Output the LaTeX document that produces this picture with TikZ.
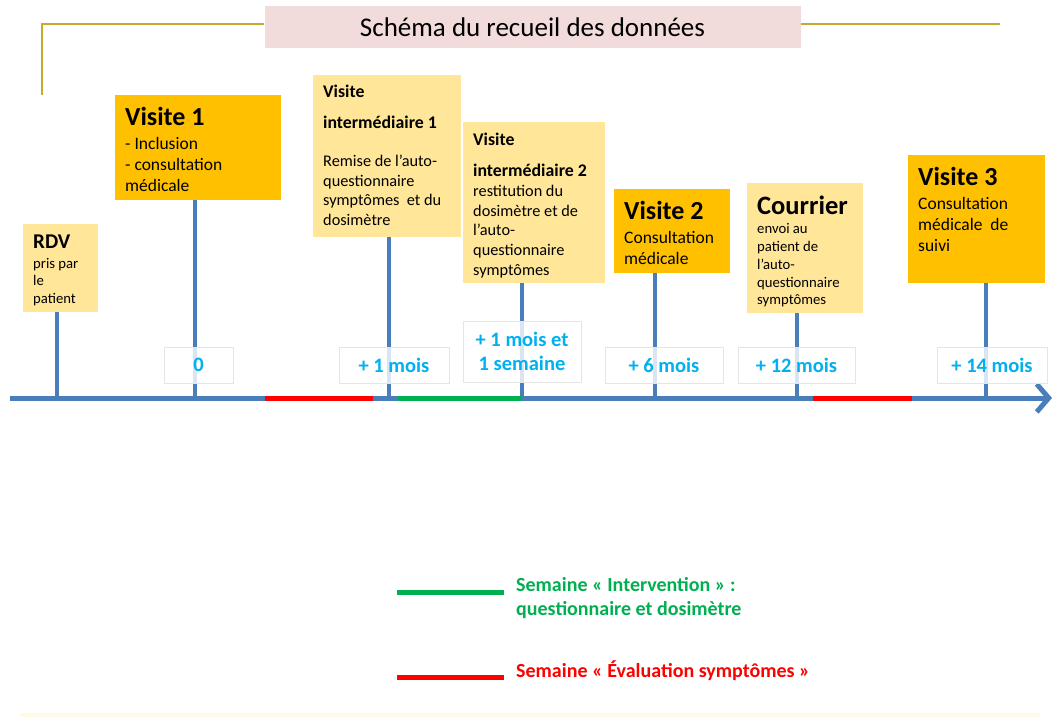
\documentclass[tikz,border=0pt]{standalone}
\usepackage{fontspec}
\setmainfont{Carlito}
\usetikzlibrary{arrows.meta, positioning}
\definecolor{palegold}{RGB}{255,230,153}
\definecolor{visitgold}{RGB}{255,192,0}
\definecolor{axisblue}{RGB}{74,126,187}
\definecolor{labelblue}{RGB}{0,176,240}
\definecolor{weekgreen}{RGB}{0,176,80}
\definecolor{weekred}{RGB}{255,0,0}
\definecolor{titlepink}{RGB}{242,220,219}
\definecolor{linegold}{RGB}{199,168,50}
%% card text: width, height, top gap, body
\newcommand{\cardtext}[4]{\parbox[c][#2][t]{#1}{\raggedright\vspace*{#3}#4}}

\begin{document}
\begin{tikzpicture}[
    x=1pt, y=-1pt,
    card/.style={
        fill=palegold, anchor=north west,
        inner xsep=10pt, inner ysep=0pt
    },
    visit/.style={card, fill=visitgold},
    timebox/.style={
        draw=black!10, line width=0.8pt,
        fill=white, fill opacity=0.8, text opacity=1,
        text=labelblue, align=center, inner sep=0pt,
        font=\fontsize{20.5}{24}\selectfont\bfseries
    },
    stem/.style={draw=axisblue, line width=3.5pt},
    timeline/.style={
        draw=axisblue, line width=5pt,
        -{Straight Barb[length=12pt, width=28pt]}
    },
    week/.style={line width=5pt},
    titleline/.style={draw=linegold, line width=2.5pt},
    legtext/.style={
        anchor=west, align=left, inner sep=0pt,
        font=\fontsize{20}{24}\selectfont\bfseries
    }
]
\useasboundingbox (0,0) rectangle (1054,717);

%% ── Title ────────────────────────────────────────────────────────────────────
\node[fill=titlepink, minimum width=536pt, minimum height=42pt, inner sep=0pt,
      font=\fontsize{27}{30}\selectfont] (title) at (532.5,27.5)
      {Schéma du recueil des données};
\coordinate (brkl) at (42,95);
\coordinate (brkr) at (1000,24);
\draw[titleline] (brkl) |- (title.west |- brkr);
\draw[titleline] (title.east |- brkr) -- (brkr);

%% ── Visits ───────────────────────────────────────────────────────────────────
\node[card] (rdv) at (23,224) {\cardtext{55pt}{88pt}{11pt}{%
    {\fontsize{21}{21}\selectfont\bfseries RDV\par}\vspace{1.5pt}
    \fontsize{14.7}{17.7}\selectfont pris par\\le\\patient}};
\node[visit] (visite1) at (115,95) {\cardtext{146pt}{105pt}{12pt}{%
    {\fontsize{26}{26}\selectfont\bfseries Visite 1\par}\vspace{3pt}
    \fontsize{17.5}{21}\selectfont - Inclusion\\- consultation\\médicale}};
\node[card] (vinter1) at (313,75) {\cardtext{128pt}{162pt}{10pt}{%
    {\fontsize{17.8}{30.5}\selectfont\bfseries Visite\par intermédiaire 1\par}\vspace{18.5pt}
    \fontsize{16.3}{19.7}\selectfont Remise de l’auto-\\questionnaire\\symptômes\ \ et du\\dosimètre}};
\node[card] (vinter2) at (463,122) {\cardtext{122pt}{161pt}{11pt}{%
    {\fontsize{17.8}{30.5}\selectfont\bfseries Visite\par intermédiaire 2\par}\vspace{0.5pt}
    \fontsize{16.3}{19.7}\selectfont restitution du\\dosimètre et de\\l’auto-\\questionnaire\\symptômes}};
\node[visit] (visite2) at (614,189) {\cardtext{96pt}{84pt}{12.5pt}{%
    {\fontsize{26}{26}\selectfont\bfseries Visite 2\par}\vspace{2.5pt}
    \fontsize{17.5}{21}\selectfont Consultation\\médicale}};
\node[card] (courrier) at (747,183) {\cardtext{96pt}{130pt}{12.5pt}{%
    {\fontsize{26.5}{27}\selectfont\bfseries Courrier\par}\vspace{2pt}
    \fontsize{14.7}{17.7}\selectfont envoi au\\patient de\\l’auto-\\questionnaire\\symptômes}};
\node[visit] (visite3) at (908,155) {\cardtext{117pt}{128pt}{12pt}{%
    {\fontsize{26}{26}\selectfont\bfseries Visite 3\par}\vspace{3.5pt}
    \fontsize{17.5}{21}\selectfont Consultation\\médicale\ \ de\\suivi}};

%% ── Stems down to the time axis ──────────────────────────────────────────────
\coordinate (trdv)      at (57,398);
\coordinate (tvisite1)  at (195,398);
\coordinate (tvinter1)  at (389,398);
\coordinate (tvinter2)  at (522,398);
\coordinate (tvisite2)  at (655,398);
\coordinate (tcourrier) at (797,398);
\coordinate (tvisite3)  at (986,398);
\draw[stem] (trdv)      -- (trdv |- rdv.south);
\draw[stem] (tvisite1)  -- (tvisite1 |- visite1.south);
\draw[stem] (tvinter1)  -- (tvinter1 |- vinter1.south);
\draw[stem] (tvinter2)  -- (tvinter2 |- vinter2.south);
\draw[stem] (tvisite2)  -- (tvisite2 |- visite2.south);
\draw[stem] (tcourrier) -- (tcourrier |- courrier.south);
\draw[stem] (tvisite3)  -- (tvisite3 |- visite3.south);

%% ── Time axis and weeks ──────────────────────────────────────────────────────
\coordinate (axstart) at (10,398);
\coordinate (axend)   at (1052,398);
\draw[timeline] (axstart) -- (axend);
\draw[week, draw=weekred]   (265,398) -- (373,398);
\draw[week, draw=weekgreen] (398,398) -- (tvinter2);
\draw[week, draw=weekred]   (813,398) -- (912,398);

%% ── Time labels ──────────────────────────────────────────────────────────────
\node[timebox, minimum width=69pt,  minimum height=36pt] (lab0)  at (198.5,365) {0};
\node[timebox, minimum width=110pt, minimum height=36pt] (lab1)  at (394,365)   {+ 1 mois};
\node[timebox, minimum width=118pt, minimum height=61pt] (lab1s) at (522,351.5) {+ 1 mois et\\1 semaine};
\node[timebox, minimum width=118pt, minimum height=36pt] (lab6)  at (664,365)   {+ 6 mois};
\node[timebox, minimum width=117pt, minimum height=36pt] (lab12) at (796.5,365) {+ 12 mois};
\node[timebox, minimum width=110pt, minimum height=36pt] (lab14) at (992,365)   {+ 14 mois};

%% ── Legend ───────────────────────────────────────────────────────────────────
\node[legtext, text=weekgreen] (leginterv) at (516,598)
    {Semaine « Intervention » :\\questionnaire et dosimètre};
\node[legtext, text=weekred] (legeval) at (516,671)
    {Semaine « Évaluation symptômes »};
\draw[week, draw=weekgreen] (397,592) -- (504,592);
\draw[week, draw=weekred]   (397,677) -- (504,677);

\fill[palegold!25] (20,713) rectangle (1040,717);
\end{tikzpicture}
\end{document}
